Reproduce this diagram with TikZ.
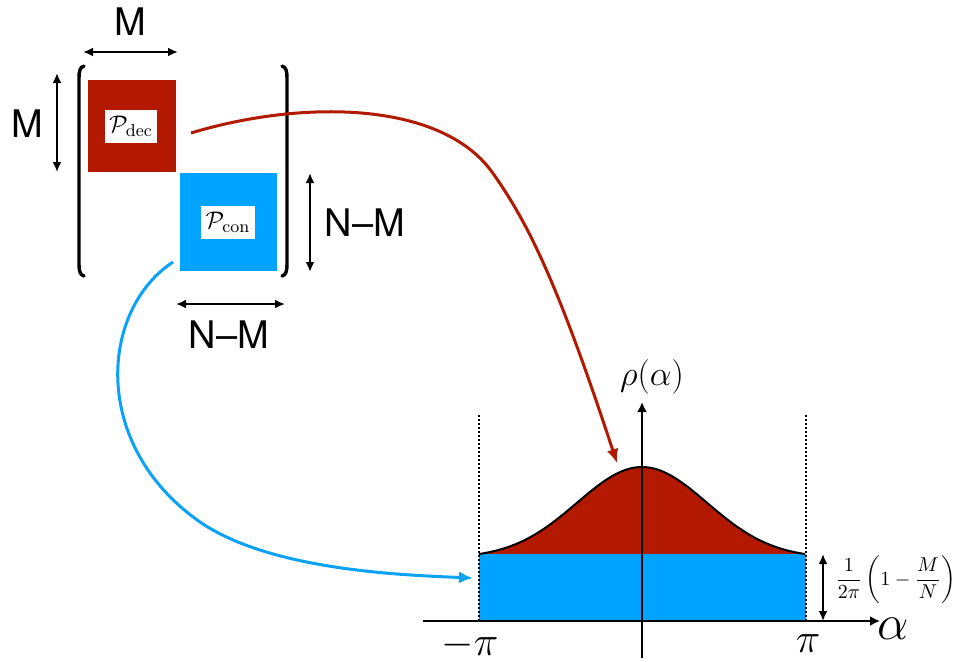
\documentclass[tikz,border=0pt]{standalone}
\usepackage{fontspec}
\newfontfamily\helv{TeX Gyre Heros}
\usepackage{amsmath}
\usetikzlibrary{arrows.meta,calc}
\definecolor{decRed}{HTML}{B31900}
\definecolor{conBlue}{HTML}{00A3FF}
\definecolor{linkRed}{HTML}{B01A00}
\definecolor{linkBlue}{HTML}{0AA2F5}

\begin{document}
\begin{tikzpicture}[x=0.5pt,y=-0.5pt,
  blk/.style={inner sep=0pt, draw=none},
  tag/.style={fill=white, inner sep=2.2pt, inner ysep=3pt, font=\fontsize{12.5}{14}\selectfont},
  dimarr/.style={line width=1pt, {Latex[length=5pt,width=4.5pt]}-{Latex[length=5pt,width=4.5pt]}},
  dimlbl/.style={font=\helv\fontsize{19}{22}\selectfont, inner sep=1pt},
  brk/.style={line width=1.7pt, line cap=round},
  link/.style={line width=1.5pt, -{Latex[length=7pt,width=6pt]}},
  axis/.style={line width=1pt, -{Latex[length=5pt,width=5pt]}}]
  \useasboundingbox (0,0) rectangle (962,661);

  % the two blocks of the matrix
  \node[blk, fill=decRed, minimum width=44pt, minimum height=46pt] (dec) at (132,126) {};
  \node[blk, fill=conBlue, minimum width=48.5pt, minimum height=49pt] (con) at (228.5,222) {};
  \node[tag] (decTag) at (131,126.5) {$\mathcal{P}_{\mathrm{dec}}$};
  \node[tag] (conTag) at (228,222.5) {$\mathcal{P}_{\mathrm{con}}$};

  % brackets
  \draw[brk] (84,66) .. controls (80,67) and (79,71) .. (79,78) -- (79,264) .. controls (79,271) and (80,275) .. (84,276);
  \draw[brk] (282,66) .. controls (286,67) and (287,71) .. (287,78) -- (287,264) .. controls (287,271) and (286,275) .. (282,276);

  % sizes
  \coordinate (topL) at (83,52);   \coordinate (topR) at (178,52);
  \coordinate (lftT) at (57,73);   \coordinate (lftB) at (57,172);
  \coordinate (rgtT) at (310,173); \coordinate (rgtB) at (310,272);
  \coordinate (botL) at (176,304); \coordinate (botR) at (285,304);
  \draw[dimarr] (topL) -- (topR);
  \draw[dimarr] (lftT) -- (lftB);
  \draw[dimarr] (rgtT) -- (rgtB);
  \draw[dimarr] (botL) -- (botR);
  \node[dimlbl] (mTop) at (130,22) {M};
  \node[dimlbl] (mLeft) at (27,124) {M};
  \node[dimlbl] (nmRight) at (365,223) {N\textendash M};
  \node[dimlbl] (nmBottom) at (229,335) {N\textendash M};

  % density plot
  \fill[decRed] plot[domain=-163:163, samples=81] ({642+\x},{554-87*(exp(-(\x/92)*(\x/92))-0.0433)/0.9567}) -- cycle;
  \fill[conBlue] (479,554) rectangle (806,621);
  \draw[line width=1pt] plot[domain=-163:163, samples=81] ({642+\x},{554-87*(exp(-(\x/92)*(\x/92))-0.0433)/0.9567});
  \draw[line width=1pt, dash pattern=on 1pt off 1pt] (479,415) -- (479,621);
  \draw[line width=1pt, dash pattern=on 1pt off 1pt] (806,415) -- (806,621);
  \coordinate (xFrom) at (423,621); \coordinate (xTo) at (880,621);
  \coordinate (yFrom) at (642,658); \coordinate (yTo) at (642,402);
  \draw[axis] (xFrom) -- (xTo);
  \draw[axis] (yFrom) -- (yTo);
  \coordinate (hTop) at (823,554); \coordinate (hBot) at (823,621);
  \draw[dimarr] (hTop) -- (hBot);

  \node (rho) at (652,377) {\fontsize{18}{20}\selectfont$\rho(\alpha)$};
  \node (alpha) at (893,629) {\fontsize{24}{28}\selectfont$\alpha$};
  \node (mPi) at (470,645) {\fontsize{20}{24}\selectfont$-\pi$};
  \node (pPi) at (808,644) {\fontsize{20}{24}\selectfont$\pi$};
  \node[anchor=west, inner sep=0pt] (height) at (835,580) {\fontsize{10.3}{12}\selectfont$\displaystyle\frac{1}{2\pi}\left(1-\frac{M}{N}\right)$};

  % links from the blocks to the spectrum
  \coordinate (decFrom) at (191,133);
  \coordinate (peak) at (617,463);
  \coordinate (conFrom) at (173,262);
  \coordinate (flat) at (473,578);
  \draw[link, linkRed] (decFrom) .. controls (300,100) and (440,100) .. (492,172) .. controls (530,225) and (560,290) .. (peak);
  \draw[link, linkBlue] (conFrom) .. controls (100,310) and (90,445) .. (200,522) .. controls (270,570) and (400,575) .. (flat);
\end{tikzpicture}
\end{document}
